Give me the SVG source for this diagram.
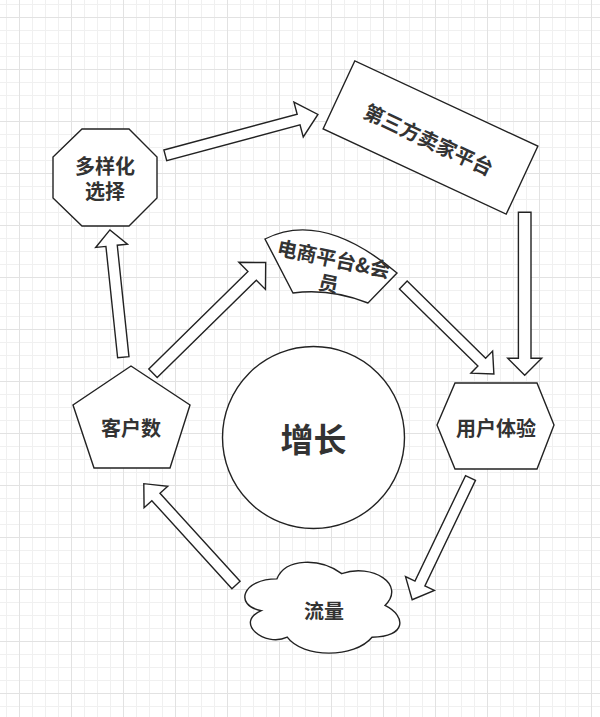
<svg xmlns="http://www.w3.org/2000/svg" width="600" height="717" viewBox="0 0 600 717">
<defs>
<pattern id="minor" width="13" height="13" patternUnits="userSpaceOnUse" x="6" y="4">
<rect x="0" y="0" width="1" height="13" fill="#f0f0f0"/>
<rect x="0" y="0" width="13" height="1" fill="#f0f0f0"/>
</pattern>
<pattern id="major" width="52" height="52" patternUnits="userSpaceOnUse" x="19" y="17">
<rect x="0" y="0" width="1" height="52" fill="#e2e2e2"/>
<rect x="0" y="0" width="52" height="1" fill="#e2e2e2"/>
</pattern>
<style>
.shape{fill:#fff;stroke:#222;stroke-width:1.4;stroke-linejoin:miter}
.arrow{fill:#fff;stroke:#222;stroke-width:1.4;stroke-linejoin:miter}
.lbl{font-family:"Noto Sans CJK SC","Noto Sans",sans-serif;font-weight:bold;font-size:20px;fill:#333;text-anchor:middle;dominant-baseline:central}
</style>
</defs>
<rect width="600" height="717" fill="#fff"/>
<rect width="600" height="717" fill="url(#minor)"/>
<rect width="600" height="717" fill="url(#major)"/>

<g id="connectors">
<polygon class="arrow" points="0,-5.5 138,-5.5 138,-18 158,0 138,18 138,5.5 0,5.5" transform="translate(165.3,155.3) rotate(-15)"/>
<polygon class="arrow" points="0,-6.3 146,-6.3 146,-17 163,0 146,17 146,6.3 0,6.3" transform="translate(524.7,212.3) rotate(90)"/>
<polygon class="arrow" points="0,-5.5 110,-5.5 110,-15.5 127,0 110,15.5 110,5.5 0,5.5" transform="translate(403.3,285) rotate(44.5)"/>
<polygon class="arrow" points="0,-6 139,-6 139,-19 158,0 139,19 139,6 0,6" transform="translate(153,373.3) rotate(-44.5)"/>
<polygon class="arrow" points="0,-5.7 112,-5.7 112,-16 128,0 112,16 112,5.7 0,5.7" transform="translate(123.3,357.2) rotate(-96)"/>
<polygon class="arrow" points="0,-5.5 117,-5.5 117,-16 135,0 117,16 117,5.5 0,5.5" transform="translate(470.5,478) rotate(115.6)"/>
<polygon class="arrow" points="0,-5.5 119,-5.5 119,-16 137,0 119,16 119,5.5 0,5.5" transform="translate(236,585) rotate(-132.3)"/>
</g>

<g id="node-duoyanghua">
<polygon class="shape" points="82,129 129,129 157,157 157,198 129,226 82,226 53,198 53,157"/>
<text class="lbl"><tspan x="105" y="165">多样化</tspan><tspan x="105" y="190">选择</tspan></text>
</g>

<g id="node-disanfang">
<rect class="shape" x="-101" y="-37.5" width="202" height="75" transform="translate(430.5,137.5) rotate(25)"/>
<text class="lbl" transform="translate(429,139) rotate(25)" x="0" y="0">第三方卖家平台</text>
</g>

<g id="node-dianshang">
<path class="shape" d="M265,239 Q322,210 397,273 L368,303 Q330,288 293,293 Z"/>
<text class="lbl" transform="translate(331.4,269.75) rotate(12)"><tspan x="0" y="-12.5">电商平台&amp;会</tspan><tspan x="0" y="12.5">员</tspan></text>
</g>

<g id="node-kehushu">
<polygon class="shape" points="131,366 190,405 170,468 94,468 73,405"/>
<text class="lbl" x="131" y="427">客户数</text>
</g>

<g id="node-yonghutiyan">
<polygon class="shape" points="437,425 455,383 537,383 554,425 537,469 455,469"/>
<text class="lbl" x="496" y="427">用户体验</text>
</g>

<g id="node-zengzhang">
<circle class="shape" cx="313.5" cy="437.5" r="91"/>
<text class="lbl" x="313.5" y="438" style="font-size:33px">增长</text>
</g>

<g id="node-liuliang">
<path class="shape" transform="translate(233.6,552.4) scale(173,106)" vector-effect="non-scaling-stroke" d="M0.25,0.25 C0.05,0.25 0,0.5 0.16,0.55 C0,0.66 0.18,0.9 0.31,0.8 C0.4,1 0.7,1 0.8,0.8 C1,0.8 1,0.6 0.875,0.5 C1,0.3 0.8,0.1 0.625,0.2 C0.5,0.05 0.3,0.05 0.25,0.25 Z"/>
<text class="lbl" x="324" y="610">流量</text>
</g>
</svg>
